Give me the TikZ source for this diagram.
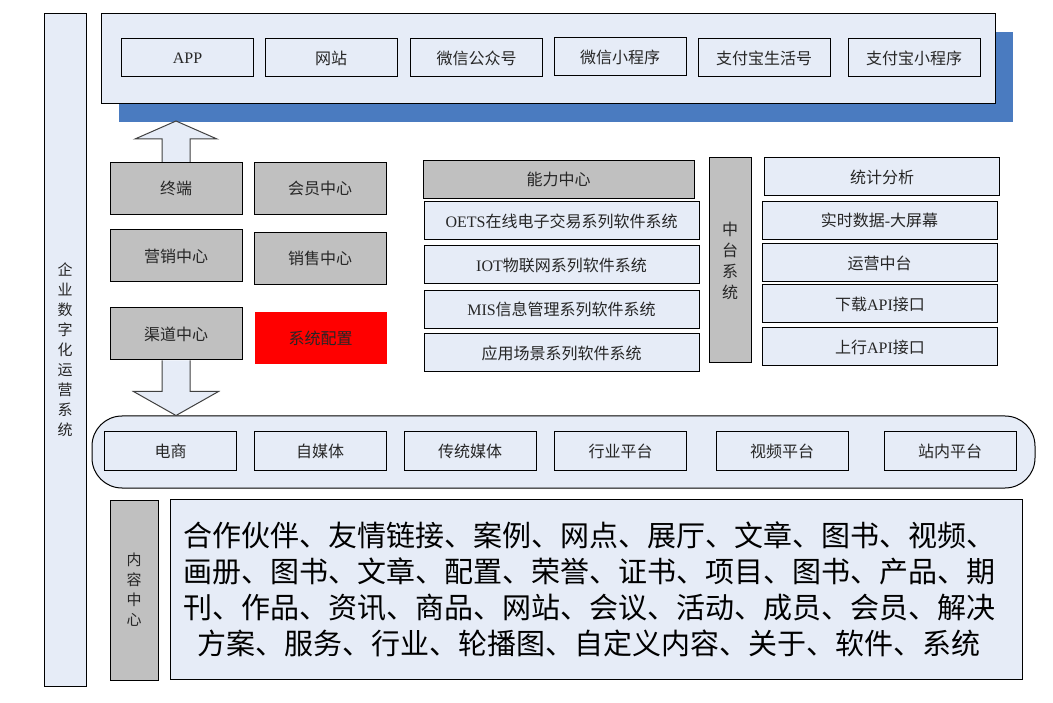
\documentclass[tikz,border=0pt]{standalone}
\usepackage{fontspec}
\setmainfont{Noto Sans CJK SC}
\newfontfamily\lat{Liberation Serif}
\usetikzlibrary{calc,shadows}

\definecolor{paleblue}{HTML}{E6ECF7}
\definecolor{boxgray}{HTML}{C0C0C0}
\definecolor{shadowblue}{HTML}{4A7BC0}

\tikzset{
  pane/.style={draw, line width=1pt, fill=paleblue, inner sep=0pt, text=black!85},
  box/.style={pane, minimum width=132pt, minimum height=38pt, font=\fontsize{16}{19}\selectfont},
  graybox/.style={box, fill=boxgray, minimum height=52pt},
  wide/.style={box, minimum width=275pt},
  side/.style={box, minimum width=235pt},
  vtext/.style={align=center, font=\fontsize{15}{20}\selectfont},
  blockarrow/.style={draw=black!75, line width=1pt, fill=paleblue, line join=miter}
}

\begin{document}
\begin{tikzpicture}[x=1pt, y=-1pt]
  \useasboundingbox (0,0) rectangle (1053,703);

  \newcommand\R{\hbox to 14pt{}}

  %% whole system, left
  \node[pane, minimum width=42pt, minimum height=672pt, vtext] (sys) at (65,350)
    {企\\业\\数\\字\\化\\运\\营\\系\\统};

  %% terminal layer
  \node[pane, minimum width=894pt, minimum height=90pt,
    drop shadow={shadow xshift=18pt, shadow yshift=-18pt, fill=shadowblue, opacity=1}] (term) at (548,59) {};
  \node[box] (app) at (187.5,58) {\lat APP};
  \node[box] (web) at (331,58) {网站};
  \node[box] (wxgzh) at (476.5,58) {微信公众号};
  \node[box] (wxapp) at (620,57) {微信小程序};
  \node[box] (alish) at (764,58) {支付宝生活号};
  \node[box] (aliapp) at (914,58) {支付宝小程序};

  %% centres, left
  \node[graybox] (zd) at (176,188.5) {终端};
  \node[graybox] (hy) at (320,188.5) {会员中心};
  \node[graybox] (yx) at (176,256) {营销中心};
  \node[graybox] (xs) at (320,258.5) {销售中心};
  \node[graybox] (qd) at (176,334) {渠道中心};
  \node[graybox, draw=none, fill=red] (pz) at (320.5,338) {系统配置};

  %% ability centre
  \node[wide, fill=boxgray, minimum width=271pt] (nl) at (558.5,179.5) {能力中心};
  \node[wide] (oets) at (561.5,221) {{\lat OETS}在线电子交易系列软件系统};
  \node[wide] (iot) at (561.5,265) {{\lat IOT}物联网系列软件系统};
  \node[wide] (mis) at (561.5,309.5) {{\lat MIS}信息管理系列软件系统};
  \node[wide] (cj) at (561.5,353) {应用场景系列软件系统};

  %% middle platform
  \node[pane, fill=boxgray, minimum width=42pt, minimum height=205pt, align=center,
    font=\fontsize{16}{21}\selectfont] (zt) at (730,260.5) {中\\台\\系\\统};
  \node[side] (tj) at (882,177) {统计分析};
  \node[side] (ss) at (879.5,220.5) {实时数据{\lat -}大屏幕};
  \node[side] (yy) at (879.5,263) {运营中台};
  \node[side] (xz) at (880,304) {下载{\lat API}接口};
  \node[side] (sx) at (880,347) {上行{\lat API}接口};

  %% channels
  \node[pane, minimum width=943pt, minimum height=72pt, rounded corners=30pt] (chan) at (563.5,452) {};
  \node[box] (ds) at (170.5,451) {电商};
  \node[box] (zmt) at (320,451) {自媒体};
  \node[box] (ctmt) at (470,451) {传统媒体};
  \node[box] (hypt) at (620.5,451) {行业平台};
  \node[box] (sppt) at (782,451) {视频平台};
  \node[box] (znpt) at (950,451) {站内平台};

  %% content centre
  \node[pane, fill=boxgray, minimum width=48pt, minimum height=180pt, vtext] (nr) at (134,590)
    {内\\容\\中\\心};
  \node[pane, minimum width=852pt, minimum height=180pt, text width=840pt, align=center, text=black,
    font=\fontsize{29}{36}\selectfont] (items) at (596,589)
    {合作伙伴、友情链接、案例、网点、展厅、文章、图书、视频、\R\\
     画册、图书、文章、配置、荣誉、证书、项目、图书、产品、期\R\\
     刊、作品、资讯、商品、网站、会议、活动、成员、会员、解决\R\\
     方案、服务、行业、轮播图、自定义内容、关于、软件、系统\R};

  \draw[blockarrow] ($(zd.north)+(-14,0)$) -- ++(0,-23) -- ++(-27,0) -- ($(zd.north)+(0,-41)$)
    -- ($(zd.north)+(41,-23)$) -- ++(-27,0) -- ($(zd.north)+(14,0)$); %% zd->term
  \draw[blockarrow] ($(qd.south)+(-14,0)$) -- ++(0,31) -- ++(-28.5,0) -- (qd.south |- chan.north)
    -- ($(qd.south)+(42.5,31)$) -- ++(-28.5,0) -- ($(qd.south)+(14,0)$); %% qd->chan
\end{tikzpicture}
\end{document}
